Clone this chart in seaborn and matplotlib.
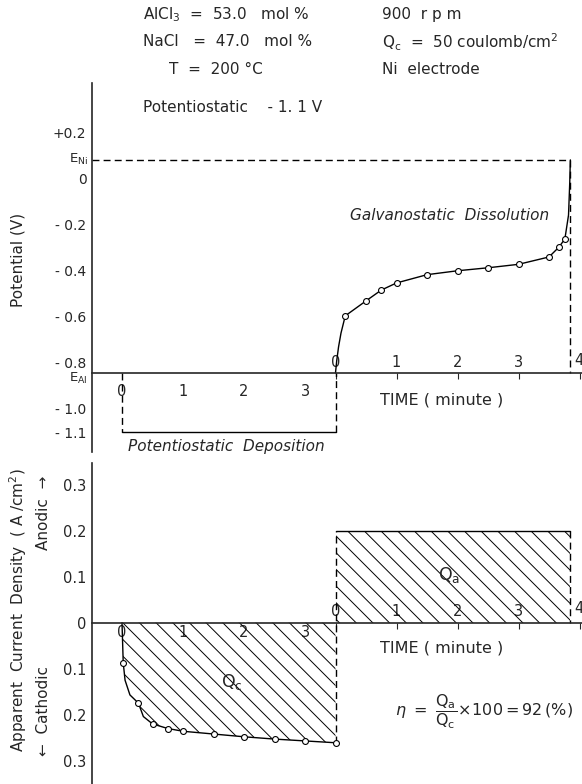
import matplotlib
matplotlib.use("Agg")
import matplotlib.pyplot as plt
import seaborn as sns
import pandas as pd

# ---------------- data ----------------
deposition_time_ticks = [0, 1, 2, 3]
dissolution_time_ticks = [0, 1, 2, 3, 4]
potential_ticks = [0.2, 0.0, -0.2, -0.4, -0.6, -0.8, -1.0, -1.1]
potential_tick_labels = ["+0.2", "0", "- 0.2", "- 0.4", "- 0.6", "- 0.8", "- 1.0", "- 1.1"]
current_ticks = [0.3, 0.2, 0.1, 0.0, -0.1, -0.2, -0.3]
current_tick_labels = ["0.3", "0.2", "0.1", "0", "0.1", "0.2", "0.3"]

E_Ni = 0.083            # V
E_Al = -0.843           # V
deposition_potential = -1.1
deposition_duration = 3.5   # minutes
dissolution_duration = 3.85 # minutes
anodic_current = 0.2        # A/cm2

# galvanostatic dissolution: measured points
diss_t = [0.16, 0.5, 0.75, 1.0, 1.5, 2.0, 2.5, 3.0, 3.5, 3.66, 3.76]
diss_V = [-0.595, -0.53, -0.483, -0.452, -0.416, -0.399, -0.386, -0.371, -0.339, -0.297, -0.261]
# drawn curve through them (traced, incl. steep ends)
diss_curve_t = [0.0, 0.02, 0.05, 0.09, 0.16, 0.5, 0.75, 1.0, 1.5, 2.0, 2.5, 3.0, 3.5, 3.66, 3.76, 3.82, 3.84, 3.85]
diss_curve_V = [-0.843, -0.79, -0.73, -0.67, -0.595, -0.53, -0.483, -0.452, -0.416, -0.399,
                -0.386, -0.371, -0.339, -0.297, -0.261, -0.157, -0.017, 0.083]

# potentiostatic deposition: cathodic current (A/cm2), measured points
dep_t = [0.02, 0.27, 0.5, 0.75, 1.0, 1.5, 2.0, 2.5, 3.0, 3.5]
dep_I = [0.087, 0.175, 0.22, 0.23, 0.236, 0.242, 0.248, 0.253, 0.257, 0.261]
# drawn curve (traced)
dep_curve_t = [0.0, 0.02, 0.05, 0.13, 0.27, 0.35, 0.5, 0.75, 1.0, 1.5, 2.0, 2.5, 3.0, 3.5]
dep_curve_I = [0.0, 0.087, 0.125, 0.157, 0.175, 0.204, 0.22, 0.23, 0.236, 0.242, 0.248, 0.253, 0.257, 0.261]

# ---------------- style ----------------
sns.set_style("white")
plt.rcParams["font.family"] = ["DejaVu Sans"]
plt.rcParams["hatch.linewidth"] = 0.7
plt.rcParams["axes.linewidth"] = 1.2

W, H = 582, 784
fig = plt.figure(figsize=(W / 100, H / 100), dpi=100)

# pixel layout helpers
x0_px, px_per_min, left_px = 122, 61.0, 92
xlim = ((left_px - x0_px) / px_per_min, (W - x0_px) / px_per_min)

ax1 = fig.add_axes([left_px / W, 1 - 452 / H, (W - left_px) / W, (452 - 83) / H])
ax2 = fig.add_axes([left_px / W, 0.0, (W - left_px) / W, (784 - 463) / H])

ax1.set_xlim(*xlim)
ax1.set_ylim((179 - 452) / 230, (179 - 83) / 230)
ax2.set_xlim(*xlim)
ax2.set_ylim((622.7 - 784) / 460, (622.7 - 463) / 460)

dash = (0, (5, 3))
lw = 1.0
t_diss_end = deposition_duration + dissolution_duration
tick_fs = 10.5
diss_labels = [str(v) for v in dissolution_time_ticks[:-1]] + [""]


def shift(x):
    return x - deposition_duration


def unshift(x):
    return x + deposition_duration


# ---------------- top panel: potential ----------------
curve_top = pd.DataFrame({"t": [deposition_duration + t for t in diss_curve_t], "V": diss_curve_V})
pts_top = pd.DataFrame({"t": [deposition_duration + t for t in diss_t], "V": diss_V})
sns.lineplot(data=curve_top, x="t", y="V", ax=ax1, color="black", lw=lw, sort=False, estimator=None)
sns.scatterplot(data=pts_top, x="t", y="V", ax=ax1, s=18, facecolor="white", edgecolor="black",
                linewidth=0.8, zorder=5)

ax1.plot([xlim[0], t_diss_end], [E_Ni, E_Ni], color="black", lw=lw, ls=dash)
ax1.plot([t_diss_end, t_diss_end], [E_Ni, E_Al], color="black", lw=lw, ls=dash)
ax1.plot([0, 0], [E_Al, deposition_potential], color="black", lw=lw, ls=dash)
ax1.plot([0, deposition_duration], [deposition_potential, deposition_potential], color="black", lw=lw)
ax1.plot([deposition_duration, deposition_duration], [deposition_potential, E_Al], color="black", lw=lw, ls=dash)

for s in ["top", "right"]:
    ax1.spines[s].set_visible(False)
ax1.spines["bottom"].set_position(("data", E_Al))
ax1.set_yticks(potential_ticks, potential_tick_labels)
ax1.set_xticks(deposition_time_ticks, [str(v) for v in deposition_time_ticks])
ax1.tick_params(axis="y", direction="in", length=5, pad=4, labelsize=10)
ax1.tick_params(axis="x", direction="out", length=4, pad=4, labelsize=tick_fs)
ax1.set_xlabel("")
ax1.set_ylabel("")

frac_top = (E_Al - ax1.get_ylim()[0]) / (ax1.get_ylim()[1] - ax1.get_ylim()[0])
sec1 = ax1.secondary_xaxis(frac_top, functions=(shift, unshift))
sec1.set_alignment("top")
sec1.set_xticks(dissolution_time_ticks, diss_labels)
sec1.tick_params(direction="in", length=4, pad=2, labelsize=tick_fs)
sec1.spines["top"].set_visible(False)
ax1.annotate(str(dissolution_time_ticks[-1]), xy=(t_diss_end, E_Al), xytext=(2.5, 3.5),
             textcoords="offset points", ha="left", va="bottom", fontsize=tick_fs)

ax1.annotate(r"E$_{\rm Ni}$", xy=(0, E_Ni), xycoords=("axes fraction", "data"),
             xytext=(-3, 0), textcoords="offset points", ha="right", va="center", fontsize=9.5)
ax1.annotate(r"E$_{\rm Al}$", xy=(0, E_Al), xycoords=("axes fraction", "data"),
             xytext=(-3, -4), textcoords="offset points", ha="right", va="center", fontsize=9.5)

ax1.text(3.74, -0.157, "Galvanostatic  Dissolution", style="italic", fontsize=11, ha="left", va="center")
ax1.text(0.1, -1.165, "Potentiostatic  Deposition", style="italic", fontsize=11, ha="left", va="center",
         clip_on=False)
ax1.text(4.23, -0.961, "TIME ( minute )", fontsize=11.5, ha="left", va="center")

# ---------------- bottom panel: current ----------------
curve_bot = pd.DataFrame({"t": dep_curve_t, "I": [-v for v in dep_curve_I]})
pts_bot = pd.DataFrame({"t": dep_t, "I": [-v for v in dep_I]})
ax2.fill_between(curve_bot["t"], curve_bot["I"], 0, facecolor="none", edgecolor="black",
                 hatch="\\\\", linewidth=0)
ax2.fill_between([deposition_duration, t_diss_end], [anodic_current, anodic_current], 0,
                 facecolor="none", edgecolor="black", hatch="\\\\", linewidth=0)
sns.lineplot(data=curve_bot, x="t", y="I", ax=ax2, color="black", lw=lw, sort=False, estimator=None)
sns.scatterplot(data=pts_bot, x="t", y="I", ax=ax2, s=18, facecolor="white", edgecolor="black",
                linewidth=0.8, zorder=5)

ax2.plot([deposition_duration, deposition_duration], [-dep_I[-1], anodic_current], color="black", lw=lw, ls=dash)
ax2.plot([deposition_duration, t_diss_end], [anodic_current, anodic_current], color="black", lw=lw)
ax2.plot([t_diss_end, t_diss_end], [anodic_current, 0], color="black", lw=lw, ls=dash)

for s in ["top", "right"]:
    ax2.spines[s].set_visible(False)
ax2.spines["bottom"].set_position(("data", 0))
ax2.set_yticks(current_ticks, current_tick_labels)
ax2.set_xticks(deposition_time_ticks, [str(v) for v in deposition_time_ticks])
ax2.tick_params(axis="y", direction="in", length=5, pad=4, labelsize=10.5)
ax2.tick_params(axis="x", direction="in", length=4, pad=2, labelsize=tick_fs)
ax2.set_xlabel("")
ax2.set_ylabel("")

frac_bot = (0 - ax2.get_ylim()[0]) / (ax2.get_ylim()[1] - ax2.get_ylim()[0])
sec2 = ax2.secondary_xaxis(frac_bot, functions=(shift, unshift))
sec2.set_alignment("top")
sec2.set_xticks(dissolution_time_ticks, diss_labels)
sec2.tick_params(direction="in", length=4, pad=3, labelsize=tick_fs)
sec2.spines["top"].set_visible(False)
ax2.annotate(str(dissolution_time_ticks[-1]), xy=(t_diss_end, 0), xytext=(2.5, 5),
             textcoords="offset points", ha="left", va="bottom", fontsize=tick_fs)

ax2.text(5.36, 0.104, r"Q$_{\rm a}$", fontsize=12.5, ha="center", va="center")
ax2.text(1.80, -0.13, r"Q$_{\rm c}$", fontsize=12.5, ha="center", va="center")
ax2.text(4.23, -0.055, "TIME ( minute )", fontsize=11.5, ha="left", va="center")
ax2.text(4.48, -0.194, r"$\eta\ =\ \dfrac{\mathrm{Q_a}}{\mathrm{Q_c}}\!\times\!100 = 92\,(\%)$", fontsize=11.5,
         ha="left", va="center")

# ---------------- axis titles and header ----------------
fig.text(18 / W, 1 - 260 / H, "Potential (V)", rotation=90, ha="center", va="center", fontsize=11)
fig.text(18 / W, 1 - 610 / H, r"Apparent  Current  Density  ( A /cm$^2$)", rotation=90,
         ha="center", va="center", fontsize=11)
fig.text(43 / W, 1 - 513 / H, "Anodic  \u2192", rotation=90, ha="center", va="center", fontsize=11)
fig.text(43 / W, 1 - 711 / H, "\u2190  Cathodic", rotation=90, ha="center", va="center", fontsize=11)

hdr = 11
fig.text(143 / W, 1 - 15 / H, r"AlCl$_3$  =  53.0   mol %", fontsize=hdr, va="center")
fig.text(143 / W, 1 - 42 / H, "NaCl   =  47.0   mol %", fontsize=hdr, va="center")
fig.text(169 / W, 1 - 70 / H, "T  =  200 \u00b0C", fontsize=hdr, va="center")
fig.text(143 / W, 1 - 108 / H, "Potentiostatic    - 1. 1 V", fontsize=hdr, va="center")
fig.text(382 / W, 1 - 15 / H, "900  r p m", fontsize=hdr, va="center")
fig.text(382 / W, 1 - 42 / H, r"Q$_{\rm c}$  =  50 coulomb/cm$^2$", fontsize=hdr, va="center")
fig.text(382 / W, 1 - 70 / H, "Ni  electrode", fontsize=hdr, va="center")

fig.savefig("out.png", dpi=100)
